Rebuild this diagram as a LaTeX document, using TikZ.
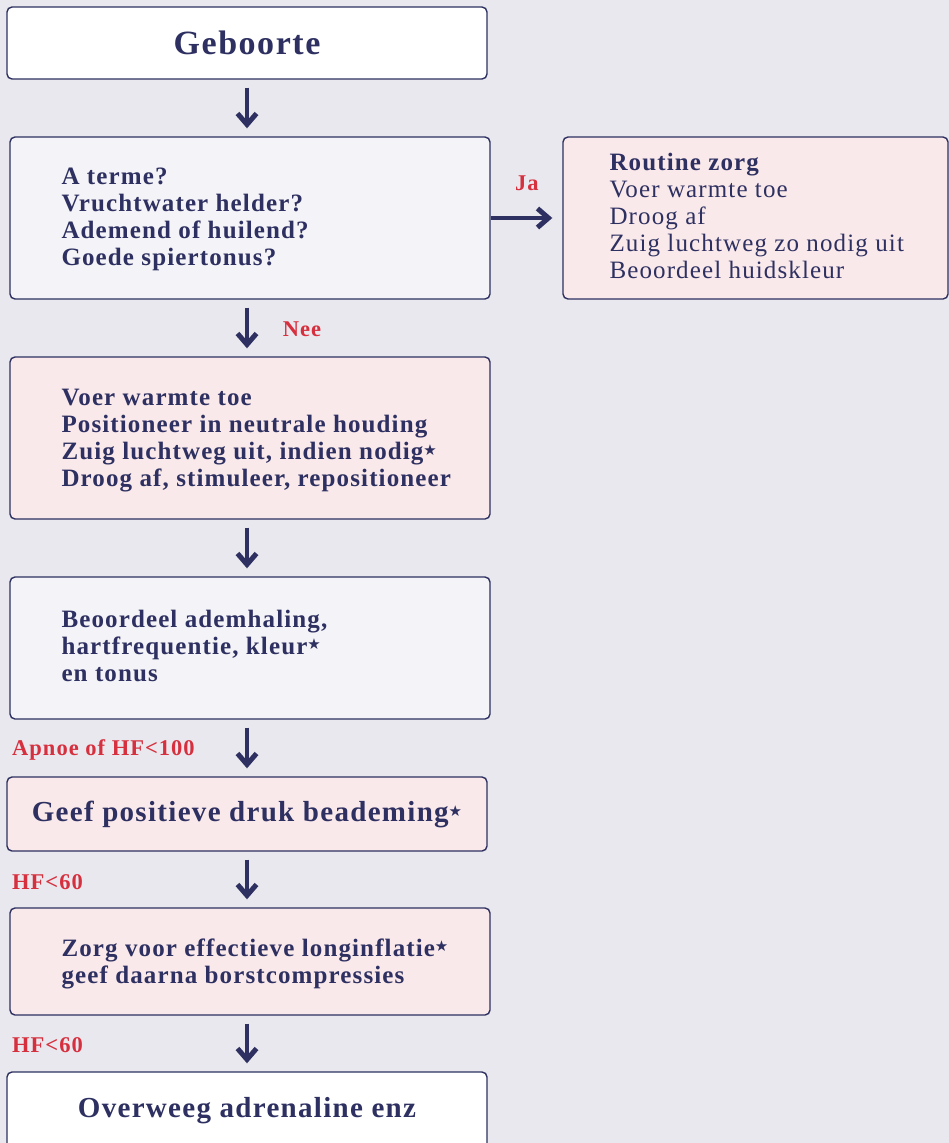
\documentclass[tikz,border=0pt]{standalone}
\usepackage{fontspec}
\setmainfont{Liberation Serif}[LetterSpace=4.5]
\newfontfamily\semib{Liberation Serif}[LetterSpace=4.5,UprightFont={* Bold}]
\newfontfamily\symf{DejaVu Sans}
\usetikzlibrary{arrows.meta}
\definecolor{bgc}{HTML}{E9E8EE}
\definecolor{navy}{HTML}{2D3060}
\definecolor{greyfill}{HTML}{F4F3F7}
\definecolor{pinkfill}{HTML}{FAE9EB}
\definecolor{lblred}{HTML}{D6303F}
\newcommand{\st}{{\symf\fontsize{15}{15}\selectfont\raisebox{0.6ex}{★}}}
\tikzset{
  box/.style={draw=navy, line width=1.4pt, rounded corners=5pt, text=navy, inner ysep=0pt},
  wbox/.style={box, minimum width=480pt},
  txt/.style={anchor=west, align=left, inner sep=0pt, text=navy, font=\semib\fontsize{25}{27}\selectfont},
  ctxt/.style={box, align=center, minimum width=480pt, font=\semib\fontsize{29}{32}\selectfont},
  arr/.style={draw=navy, line width=4pt, -{Straight Barb[length=11pt,width=19pt,line width=5pt]}, shorten <=8pt, shorten >=8pt},
  lbl/.style={text=lblred, font=\semib\fontsize{22.5}{24}\selectfont, inner sep=0pt}
}
\begin{document}
\begin{tikzpicture}[x=1pt,y=-1pt]
\fill[bgc] (0,0) rectangle (949,1143);
\useasboundingbox (0,0) rectangle (949,1143);

\node[ctxt, fill=white, minimum height=72pt, font=\semib\fontsize{34}{38}\selectfont] (g) at (247,43) {Geboorte};

\node[wbox, fill=greyfill, minimum height=162pt] (b2) at (250,218) {};
\node[txt] (b2t) at ([xshift=52pt,yshift=-1pt]b2.west)
  {A terme?\\Vruchtwater helder?\\Ademend of huilend?\\Goede spiertonus?};

\node[box, fill=pinkfill, minimum width=385pt, minimum height=162pt] (rz) at (755.5,218) {};
\node[txt, font=\fontsize{25}{27}\selectfont] (rzt) at ([xshift=47pt,yshift=2pt]rz.west)
  {{\semib Routine zorg}\\Voer warmte toe\\Droog af\\Zuig luchtweg zo nodig uit\\Beoordeel huidskleur};

\node[wbox, fill=pinkfill, minimum height=162pt] (b3) at (250,438) {};
\node[txt] (b3t) at ([xshift=52pt,yshift=-3pt]b3.west)
  {Voer warmte toe\\Positioneer in neutrale houding\\Zuig luchtweg uit, indien nodig\st\\Droog af, stimuleer, repositioneer};

\node[wbox, fill=greyfill, minimum height=142pt] (b4) at (250,648) {};
\node[txt] (b4t) at ([xshift=52pt,yshift=2pt]b4.west)
  {Beoordeel ademhaling,\\hartfrequentie, kleur\st\\en tonus};

\node[ctxt, fill=pinkfill, minimum height=74pt] (b5) at (247,814)
  {Geef positieve druk beademing\st};

\node[wbox, fill=pinkfill, minimum height=107pt] (b6) at (250,961.5) {};
\node[txt] (b6t) at ([xshift=52pt,yshift=-2pt]b6.west)
  {Zorg voor effectieve longinflatie\st\\geef daarna borstcompressies};

\node[ctxt, fill=white, minimum height=78pt] (b7) at (247,1111)
  {Overweeg adrenaline enz};

\draw[arr] (g.south) -- (b2.north -| g.south);
\draw[arr] (b2.south -| g.south) -- (b3.north -| g.south);
\draw[arr] (b3.south -| g.south) -- (b4.north -| g.south);
\draw[arr] (b4.south -| g.south) -- (b5.north -| g.south);
\draw[arr] (b5.south -| g.south) -- (b6.north -| g.south);
\draw[arr] (b6.south -| g.south) -- (b7.north -| g.south);
\draw[arr, shorten <=0pt, shorten >=10pt] (b2.east) -- (rz.west);

\node[lbl] (ja) at (527,183) {Ja};
\node[lbl] (nee) at (302,329) {Nee};
\node[lbl, anchor=west] (l1) at (12,750) {Apnoe of HF<100};
\node[lbl, anchor=west] (l2) at (12,882) {HF<60};
\node[lbl, anchor=west] (l3) at (12,1045) {HF<60};
\end{tikzpicture}
\end{document}
